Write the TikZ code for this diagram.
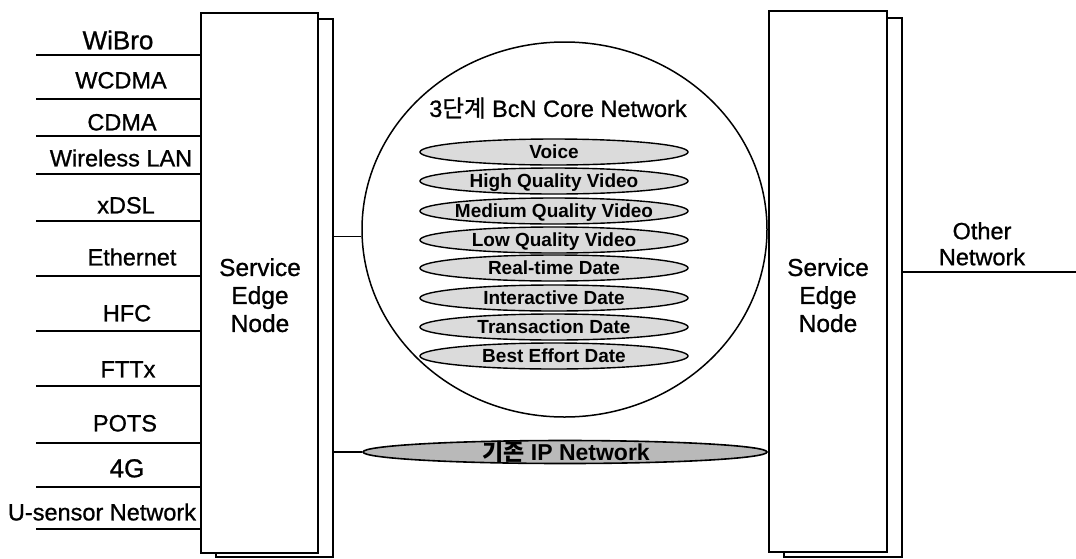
\documentclass[tikz,border=0pt]{standalone}
\usepackage{fontspec}
\setmainfont{Liberation Sans}
\newfontfamily\heavy{Liberation Sans}[FakeBold=0.9]
\newfontfamily\kr{Noto Sans CJK KR}
\newfontfamily\krheavy{Noto Sans CJK KR}[FakeBold=0.9]
\usetikzlibrary{shapes.geometric}

\tikzset{
  box/.style={draw, line width=2pt, fill=white, rectangle, inner sep=0pt, outer sep=0pt},
  access/.style={line width=1.9pt},
  link/.style={line width=1.7pt},
  tag/.style={font=\heavy\fontsize{23.5}{26}\selectfont, inner sep=0pt, text height=16.8pt, text depth=0pt, anchor=center},
  bigtag/.style={tag, font=\heavy\fontsize{26}{28}\selectfont, text height=18.6pt},
  sen/.style={font=\heavy\fontsize{24.5}{28}\selectfont, align=center, inner sep=0pt, anchor=north},
  flow/.style={ellipse, draw, line width=1.4pt, fill=gray!28, minimum width=268pt,
    minimum height=26pt, inner sep=0pt,
    label={[font=\fontsize{19}{21}\selectfont\bfseries, inner sep=0pt, text height=13.6pt, text depth=0pt]center:#1}},
}

\begin{document}
\begin{tikzpicture}[x=1pt, y=-1pt]
\useasboundingbox (0,0) rectangle (1076,558);

% edge node stacks (back plate first, front plate over it)
\node[box, minimum width=117pt, minimum height=538pt] (lback) at (274.5,288) {};
\node[box, minimum width=117pt, minimum height=540pt] (lfront) at (259.5,283) {};
\node[box, minimum width=118pt, minimum height=539pt] (rback) at (843,287.5) {};
\node[box, minimum width=118pt, minimum height=541pt] (rfront) at (828,281.5) {};

\node[sen] (lsen) at (260,258) {Service\\Edge\\Node};
\node[sen] (rsen) at (828,258) {Service\\Edge\\Node};

% access networks on the left
\foreach \n/\ly/\ty/\tx/\st/\txt in {
  a1/55/40/118/bigtag/WiBro,
  a2/99/80/121/tag/WCDMA,
  a3/136/122/122/tag/CDMA,
  a4/174/158/121/tag/Wireless LAN,
  a5/221/205/126/tag/xDSL,
  a6/276/257/132/tag/Ethernet,
  a7/331/313/127/tag/HFC,
  a8/386/369/128/tag/FTTx,
  a9/443/423/125/tag/POTS,
  a10/487/468/127/bigtag/4G,
  a11/529/512/102/tag/U-sensor Network}{
  \coordinate (\n) at (36,\ly);
  \draw[access] (\n) -- (\n -| lfront.west);
  \node[\st] (t\n) at (\tx,\ty) {\txt};
}

% core network
\node[ellipse, draw, line width=1.5pt, minimum width=405pt, minimum height=375pt, inner sep=0pt] (core) at (564.5,229.5) {};
\node[tag] (coretitle) at (558,108.5) {3{\krheavy 단계} BcN Core Network};

\node[flow=Voice] (f1) at (554,152) {};
\node[flow=High Quality Video] (f2) at (554,181) {};
\node[flow=Medium Quality Video] (f3) at (554,211) {};
\node[flow=Low Quality Video] (f4) at (554,240) {};
\node[flow=Real-time Date] (f5) at (554,268) {};
\node[flow=Interactive Date] (f6) at (554,298) {};
\node[flow=Transaction Date] (f7) at (554,327) {};
\node[flow=Best Effort Date] (f8) at (554,356) {};

% legacy IP network
\node[ellipse, draw, line width=1.6pt, fill=gray!55, minimum width=404pt, minimum height=23pt, inner sep=0pt] (ip) at (565,452) {};
\node[font=\fontsize{23}{25}\selectfont\bfseries, inner sep=0pt, text height=16.4pt, text depth=0pt] (iptxt) at (566,452) {{\kr 기존} IP Network};

% links between edge nodes and networks
\draw[link] (core.182) -- (core.182 -| lback.east);
\draw[link] (core.358) -- (core.358 -| rfront.west);
\draw[link] (ip.west) -- (ip.west -| lback.east);
\draw[link] (ip.east) -- (ip.east -| rfront.west);

% other network
\coordinate (onet) at (1076,272);
\draw[access] (rback.east |- onet) -- (onet);
\node[sen, font=\heavy\fontsize{23.5}{26}\selectfont] (otxt) at (982,222) {Other\\Network};
\end{tikzpicture}
\end{document}
